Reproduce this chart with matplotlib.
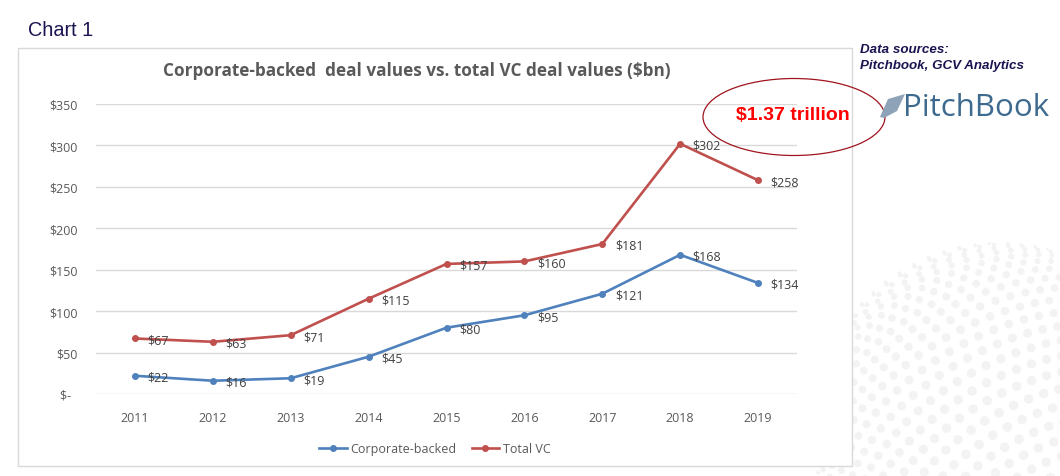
import matplotlib
matplotlib.use("Agg")
import matplotlib.pyplot as plt
import numpy as np
from matplotlib.patches import Ellipse, Rectangle, Polygon

years = ["2011", "2012", "2013", "2014", "2015", "2016", "2017", "2018", "2019"]
corporate = [22, 16, 19, 45, 80, 95, 121, 168, 134]
total_vc = [67, 63, 71, 115, 157, 160, 181, 302, 258]
yticks = [0, 50, 100, 150, 200, 250, 300, 350]
ytick_labels = ["$-  ", "$50", "$100", "$150", "$200", "$250", "$300", "$350"]

BLUE = "#4F81BD"
RED = "#C0504D"
GRAY = "#595959"

W, H = 1060, 477
fig = plt.figure(figsize=(W / 100, H / 100), dpi=100)
fig.patch.set_facecolor("white")

def fx(px):
    return px / W

def fy(py):
    return 1 - py / H

# faint decorative dotted sphere (background)
bg = fig.add_axes([0, 0, 1, 1], zorder=-10)
bg.set_xlim(0, W)
bg.set_ylim(H, 0)
bg.axis("off")
cx, cy, R = 1000, 432, 188
px_, py_, ps_ = [], [], []
tilt = np.radians(-35)
a = np.radians(30)
for la in np.radians(np.arange(-85, 90, 5)):
    n = max(6, int(72 * np.cos(la)))
    for lo in np.linspace(0, 2 * np.pi, n, endpoint=False):
        X = np.cos(la) * np.cos(lo)
        Y = np.sin(la)
        Z = np.cos(la) * np.sin(lo)
        Y2 = Y * np.cos(tilt) - Z * np.sin(tilt)
        Z2 = Y * np.sin(tilt) + Z * np.cos(tilt)
        X3 = X * np.cos(a) - Y2 * np.sin(a)
        Y3 = X * np.sin(a) + Y2 * np.cos(a)
        if Z2 > 0:
            px_.append(cx + R * X3)
            py_.append(cy - R * Y3)
            ps_.append(45 * Z2 + 3)
bg.scatter(px_, py_, s=ps_, color="#F3F3F3", edgecolors="none")

# chart frame (opaque white), above the sphere, below the plot
frame_ax = fig.add_axes([0, 0, 1, 1], zorder=-5)
frame_ax.set_xlim(0, W)
frame_ax.set_ylim(H, 0)
frame_ax.axis("off")
frame_ax.add_patch(Rectangle((18, 49), 852 - 18, 467 - 49, facecolor="white",
                             edgecolor="#D9D9D9", linewidth=1.0))

ax = fig.add_axes([fx(96), fy(395), fx(797) - fx(96), fy(105) - fy(395)])
ax.set_facecolor("none")
x = list(range(len(years)))
ax.plot(x, corporate, color=BLUE, linewidth=1.9, marker="o", markersize=4, label="Corporate-backed", zorder=3)
ax.plot(x, total_vc, color=RED, linewidth=1.9, marker="o", markersize=4, label="Total VC", zorder=3)

for xi, v in zip(x, corporate):
    ax.annotate(f"${v}", (xi, v), xytext=(9, -1), textcoords="offset points",
                ha="left", va="center", fontsize=9, color="#404040", family="Open Sans")
for xi, v in zip(x, total_vc):
    ax.annotate(f"${v}", (xi, v), xytext=(9, -1), textcoords="offset points",
                ha="left", va="center", fontsize=9, color="#404040", family="Open Sans")

ax.set_ylim(0, 350)
ax.set_xlim(-0.5, 8.5)
ax.set_yticks(yticks)
ax.set_yticklabels(ytick_labels)
ax.set_xticks(x)
ax.set_xticklabels(years)
for s in ax.spines.values():
    s.set_visible(False)
ax.grid(axis="y", color="#D9D9D9", linewidth=1.0)
ax.set_axisbelow(True)
ax.tick_params(axis="both", length=0, labelsize=9, labelcolor=GRAY)
ax.tick_params(axis="y", pad=13)
ax.tick_params(axis="x", pad=12)
for lbl in ax.get_xticklabels() + ax.get_yticklabels():
    lbl.set_family("Open Sans")

leg = ax.legend(loc="center", bbox_to_anchor=(fx(435), fy(450)), bbox_transform=fig.transFigure,
                ncol=2, frameon=False, handlelength=2.2, columnspacing=1.2,
                handletextpad=0.3, prop={"family": "Open Sans", "size": 9})
for t in leg.get_texts():
    t.set_color(GRAY)

fig.text(fx(417), fy(71), "Corporate-backed  deal values vs. total VC deal values ($bn)",
         ha="center", va="center", fontsize=12.3, fontweight="bold", color=GRAY, family="Open Sans")

fig.text(fx(28), fy(31), "Chart 1", ha="left", va="center", fontsize=14.3, color="#1A1450",
         family="Liberation Sans")

fig.text(fx(860), fy(50), "Data sources:", ha="left", va="center", fontsize=9.6,
         fontweight="bold", style="italic", color="#1A1450", family="Liberation Sans")
fig.text(fx(860), fy(66), "Pitchbook, GCV Analytics", ha="left", va="center", fontsize=9.6,
         fontweight="bold", style="italic", color="#1A1450", family="Liberation Sans")

fig.patches.append(Ellipse((fx(794), fy(118)), fx(182), 77 / H, transform=fig.transFigure,
                           fill=False, edgecolor="#A0141E", linewidth=0.9))
fig.text(fx(793), fy(116), "$1.37 trillion", ha="center", va="center", fontsize=14,
         fontweight="bold", color="#FF0000", family="Liberation Sans")

# PitchBook logo
fig.patches.append(Polygon([(fx(880), fy(118)), (fx(888), fy(100)), (fx(905), fy(95)),
                            (fx(897), fy(112)), (fx(884), fy(119))], closed=True,
                           transform=fig.transFigure, facecolor="#8FA3B8", edgecolor="none"))
fig.text(fx(903), fy(108), "PitchBook", ha="left", va="center", fontsize=22.5,
         color="#3D6A8E", family="Open Sans", fontweight="medium")

fig.savefig("out.png", dpi=100, facecolor="white")
